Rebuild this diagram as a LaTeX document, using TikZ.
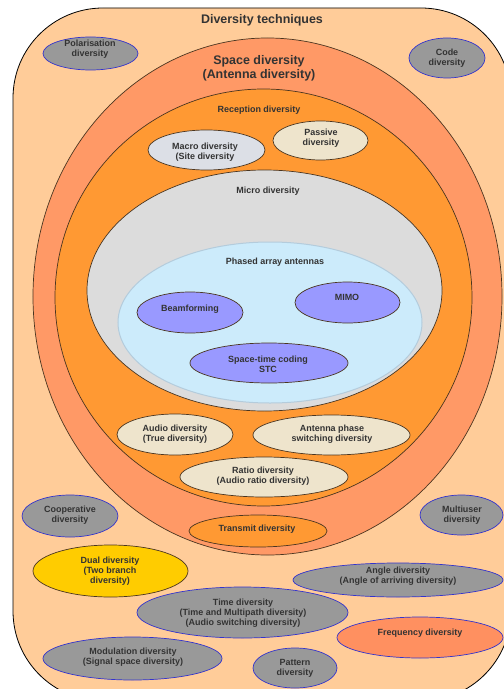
\documentclass[tikz,border=0pt]{standalone}
\usepackage{fontspec}
\setmainfont{Liberation Sans}
\usetikzlibrary{shapes.geometric}
\definecolor{peach}{HTML}{FFCC99}
\definecolor{salmon}{HTML}{FF9966}
\definecolor{orng}{HTML}{FF9933}
\definecolor{lgrey}{HTML}{DCDCDC}
\definecolor{lblue}{HTML}{CCEBFB}
\definecolor{lblueedge}{HTML}{B4CCDC}
\definecolor{purp}{HTML}{9999FF}
\definecolor{ggrey}{HTML}{999999}
\definecolor{beige}{HTML}{EEE4CC}
\definecolor{macro}{HTML}{DCDFE6}
\definecolor{yel}{HTML}{FFCC00}
\definecolor{freq}{HTML}{FF9060}
\definecolor{edge}{HTML}{4A3520}
\definecolor{blueedge}{HTML}{3333CC}
\definecolor{txt}{HTML}{333333}
\begin{document}
\begin{tikzpicture}[x=1bp,y=-1bp,
  ov/.style={ellipse, draw=edge, line width=0.7bp, inner sep=0pt, outer sep=0pt},
  gov/.style={ov, draw=blueedge, fill=ggrey},
  lbl/.style={font=\bfseries\fontsize{9}{10}\selectfont, text=txt, align=center, inner sep=0pt},
  bigl/.style={font=\bfseries\fontsize{12.5}{14}\selectfont, text=txt, align=center, inner sep=0pt}]
\useasboundingbox (0,0) rectangle (504,689);
\begin{scope}
\clip (0,0) rectangle (504,689);
\draw[fill=peach, draw=black, line width=0.8bp, rounded corners=90bp] (13,8) rectangle (511,701);
\end{scope}
% nested ellipses
\node[ov, fill=salmon, minimum width=469bp, minimum height=517bp] (space) at (267.5,296.5) {};
\node[ov, fill=orng, minimum width=417bp, minimum height=417bp] (recep) at (263.5,297.5) {};
\node[ov, fill=lgrey, minimum width=355bp, minimum height=241bp] (micro) at (264.5,290.5) {};
\node[ellipse, draw=lblueedge, line width=1bp, fill=lblue, inner sep=0pt, minimum width=304bp, minimum height=161bp] (phased) at (270,322.5) {};
% inner ellipses
\node[ov, fill=purp, minimum width=106bp, minimum height=41bp] (beam) at (190,312.5) {};
\node[ov, fill=purp, minimum width=105bp, minimum height=41bp] (mimo) at (347.5,302.5) {};
\node[ov, fill=purp, minimum width=158bp, minimum height=40bp] (stc) at (269,363) {};
\node[ov, fill=macro, minimum width=117bp, minimum height=40bp] (macro) at (206.5,150) {};
\node[ov, fill=beige, minimum width=95bp, minimum height=39bp] (passive) at (320.5,140.5) {};
\node[ov, fill=beige, minimum width=116bp, minimum height=41bp] (audio) at (175,434.5) {};
\node[ov, fill=beige, minimum width=157bp, minimum height=40bp] (antenna) at (331.5,435) {};
\node[ov, fill=beige, minimum width=168bp, minimum height=40bp] (ratio) at (264,477) {};
\node[ov, fill=orng, minimum width=138bp, minimum height=32bp] (transmit) at (258,531) {};
% outer ellipses
\node[gov, minimum width=95bp, minimum height=33bp] (polar) at (90.5,53.5) {};
\node[gov, minimum width=76bp, minimum height=40bp] (code) at (447,58) {};
\node[gov, minimum width=96bp, minimum height=42bp] (coop) at (70,516) {};
\node[gov, minimum width=83bp, minimum height=40bp] (multi) at (461.5,515) {};
\node[ov, fill=yel, minimum width=155bp, minimum height=52bp] (dual) at (110.5,571) {};
\node[gov, minimum width=210bp, minimum height=34bp] (angle) at (398,580) {};
\node[gov, minimum width=211bp, minimum height=51bp] (time) at (242.5,612.5) {};
\node[gov, fill=freq, minimum width=166bp, minimum height=41bp] (freq) at (420,637.5) {};
\node[gov, minimum width=179bp, minimum height=43bp] (modul) at (132.5,658.5) {};
\node[gov, minimum width=84bp, minimum height=40bp] (pattern) at (295,668) {};
% labels
\node[bigl] (tDiv) at (262,20) {Diversity techniques};
\node[bigl] (tSpace) at (259,68) {Space diversity\\(Antenna diversity)};
\node[lbl] (tRecep) at (259,110) {Reception diversity};
\node[lbl] (tMicro) at (268,191) {Micro diversity};
\node[lbl] (tPhased) at (275,262) {Phased array antennas};
\node[lbl] (tBeam) at (190,309) {Beamforming};
\node[lbl] (tMimo) at (347,297) {MIMO};
\node[lbl] (tStc) at (268,364) {Space-time coding\\STC};
\node[lbl] (tMacro) at (205,152) {Macro diversity\\(Site diversity};
\node[lbl] (tPassive) at (321,138.5) {Passive\\diversity};
\node[lbl] (tAudio) at (175,434.5) {Audio diversity\\(True diversity)};
\node[lbl] (tAntenna) at (332,434.5) {Antenna phase\\switching diversity};
\node[lbl] (tRatio) at (263,476) {Ratio diversity\\(Audio ratio diversity)};
\node[lbl] (tTransmit) at (257,529) {Transmit diversity};
\node[lbl] (tPolar) at (90,49) {Polarisation\\diversity};
\node[lbl] (tCode) at (447,58) {Code\\diversity};
\node[lbl] (tCoop) at (70,515.5) {Cooperative\\diversity};
\node[lbl] (tMulti) at (462,515) {Multiuser\\diversity};
\node[lbl] (tDual) at (110,571) {Dual diversity\\(Two branch\\diversity)};
\node[lbl] (tAngle) at (398,576) {Angle diversity\\(Angle of arriving diversity)};
\node[lbl] (tTime) at (243,613) {Time diversity\\(Time and Multipath diversity)\\(Audio switching diversity)};
\node[lbl] (tFreq) at (420,633) {Frequency diversity};
\node[lbl] (tModul) at (133,657) {Modulation diversity\\(Signal space diversity)};
\node[lbl] (tPattern) at (295,668) {Pattern\\diversity};
\end{tikzpicture}
\end{document}
